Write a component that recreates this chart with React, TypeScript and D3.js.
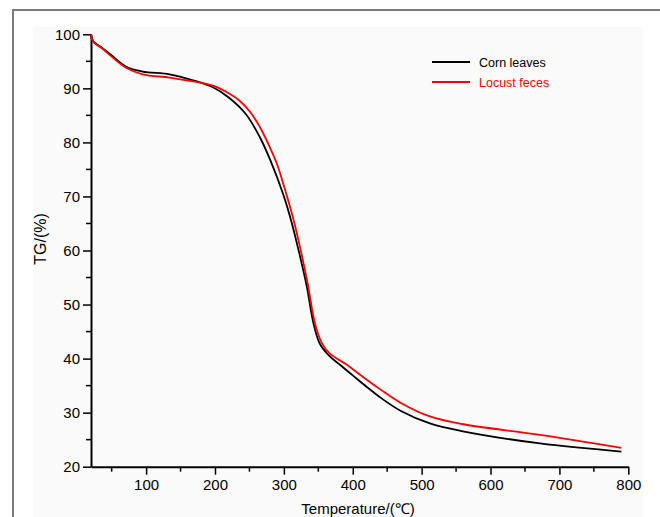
import React, { useRef, useEffect } from "react";
import * as d3 from "d3";

// temperature (°C) sample points
const cornTemp = [20, 21, 24, 35, 47, 71, 95, 134, 168, 197, 220, 245, 265, 280, 299, 310, 322, 333, 343, 352, 366, 381, 400, 420, 439, 470, 512, 558, 672, 790];
const cornTG = [100, 99.3, 98.6, 97.6, 96.4, 94.0, 93.1, 92.6, 91.5, 90.2, 88.3, 85.2, 81.0, 76.8, 70.4, 65.8, 59.7, 53.5, 46.5, 42.8, 40.5, 38.9, 36.9, 34.8, 32.9, 30.3, 28.0, 26.6, 24.3, 22.8];

const locustTemp = [20, 21, 24, 35, 47, 71, 95, 134, 168, 197, 220, 235, 250, 265, 280, 290, 299, 313, 324, 335, 345, 355, 366, 391, 415, 439, 470, 512, 558, 672, 790];
const locustTG = [100, 99.3, 98.5, 97.5, 96.2, 93.8, 92.6, 92.0, 91.3, 90.5, 89.1, 87.8, 85.8, 82.9, 79.0, 76.0, 72.4, 66.2, 60.3, 53.6, 46.6, 42.9, 41.0, 38.9, 36.6, 34.4, 31.8, 29.3, 27.9, 25.9, 23.5];

const xTicks = [100, 200, 300, 400, 500, 600, 700, 800];
const yTicks = [20, 30, 40, 50, 60, 70, 80, 90, 100];

const seriesNames = ["Corn leaves", "Locust feces"];
const seriesColors = ["#000000", "#ff0000"];

export default function App() {
  const ref = useRef<HTMLDivElement>(null);

  useEffect(() => {
    const width = 660;
    const height = 517;
    const font = "'Liberation Sans', Arial, sans-serif";

    d3.select(ref.current).selectAll("*").remove();
    const svg = d3
      .select(ref.current)
      .append("svg")
      .attr("width", width)
      .attr("height", height)
      .style("position", "absolute")
      .style("left", "0px")
      .style("top", "0px")
      .style("background", "#ffffff");

    // page frame and light panel
    svg.append("rect").attr("x", 33).attr("y", 27).attr("width", 610).attr("height", 490).attr("fill", "#fafafa");
    svg.append("path").attr("d", "M13,517V10H660").attr("fill", "none").attr("stroke", "#7a7a7a").attr("stroke-width", 2);

    const x = d3.scaleLinear().domain([20, 800]).range([91, 628.3]);
    const y = d3.scaleLinear().domain([20, 100]).range([466.7, 34.3]);

    // X axis
    const gx = svg.append("g").attr("transform", `translate(0,${y(20)})`);
    gx.call(
      d3.axisBottom(x).tickValues(xTicks).tickSize(8).tickSizeOuter(0).tickPadding(5)
    );
    gx.append("g")
      .selectAll("line")
      .data(d3.range(50, 800, 100))
      .join("line")
      .attr("x1", (d) => x(d))
      .attr("x2", (d) => x(d))
      .attr("y1", 0)
      .attr("y2", 5)
      .attr("stroke", "#000")
      .attr("stroke-width", 1.5);

    // Y axis
    const gy = svg.append("g").attr("transform", `translate(${x(20)},0)`);
    gy.call(d3.axisLeft(y).tickValues(yTicks).tickSize(8).tickSizeOuter(0).tickPadding(3));
    gy.append("g")
      .selectAll("line")
      .data(d3.range(25, 100, 10))
      .join("line")
      .attr("y1", (d) => y(d))
      .attr("y2", (d) => y(d))
      .attr("x1", 0)
      .attr("x2", -5)
      .attr("stroke", "#000")
      .attr("stroke-width", 1.5);

    [gx, gy].forEach((g) => {
      g.select(".domain").attr("stroke", "#000").attr("stroke-width", 2);
      g.selectAll(".tick line").attr("stroke", "#000").attr("stroke-width", 1.5);
      g.selectAll(".tick text")
        .attr("fill", "#000")
        .style("font-family", font)
        .style("font-size", "15px");
    });

    // Curves
    const line = d3
      .line<[number, number]>()
      .x((d) => x(d[0]))
      .y((d) => y(d[1]))
      .curve(d3.curveCatmullRom.alpha(0.5));

    const series: [number, number][][] = [
      cornTemp.map((t, i) => [t, cornTG[i]]),
      locustTemp.map((t, i) => [t, locustTG[i]]),
    ];

    series.forEach((s, i) => {
      svg
        .append("path")
        .datum(s)
        .attr("fill", "none")
        .attr("stroke", seriesColors[i])
        .attr("stroke-width", 1.8)
        .attr("d", line);
    });

    // Legend
    const legend = svg.append("g").attr("transform", "translate(432,62)");
    seriesNames.forEach((name, i) => {
      legend
        .append("line")
        .attr("x1", 0)
        .attr("x2", 38)
        .attr("y1", i * 20)
        .attr("y2", i * 20)
        .attr("stroke", seriesColors[i])
        .attr("stroke-width", 1.8);
      legend
        .append("text")
        .attr("x", 47)
        .attr("y", i * 20 + 4.5)
        .attr("fill", seriesColors[i])
        .style("font-family", font)
        .style("font-size", "12.5px")
        .text(name);
    });

    // Axis labels
    svg
      .append("text")
      .attr("x", 358)
      .attr("y", 514)
      .attr("text-anchor", "middle")
      .style("font-family", font)
      .style("font-size", "15px")
      .text("Temperature/(\u2103)");

    svg
      .append("text")
      .attr("transform", "rotate(-90)")
      .attr("x", -239)
      .attr("y", 46)
      .attr("text-anchor", "middle")
      .style("font-family", font)
      .style("font-size", "16px")
      .text("TG/(%)");
  }, []);

  return <div ref={ref}></div>;
}
